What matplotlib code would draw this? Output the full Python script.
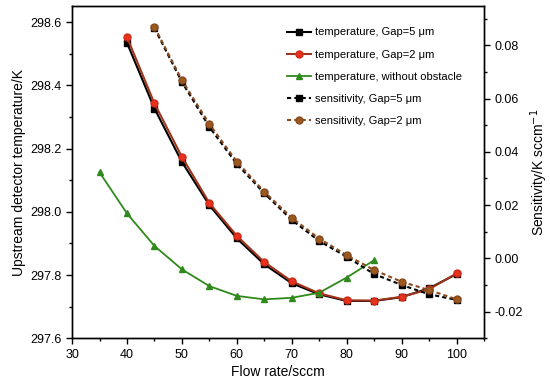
import numpy as np
import matplotlib
matplotlib.use("Agg")
import matplotlib.pyplot as plt
from matplotlib.ticker import MultipleLocator

plt.rcParams['font.family'] = ['Liberation Sans', 'DejaVu Sans']

# flow rates (sccm)
flow = [40, 45, 50, 55, 60, 65, 70, 75, 80, 85, 90, 95, 100]
flow_free = [35, 40, 45, 50, 55, 60, 65, 70, 75, 80, 85]
flow_sens = [45, 50, 55, 60, 65, 70, 75, 80, 85, 90, 95, 100]

# upstream detector temperature (K)
temp_gap5 = [298.535, 298.327, 298.158, 298.021, 297.916, 297.834, 297.774,
             297.739, 297.718, 297.718, 297.730, 297.758, 297.803]
temp_gap2 = [298.553, 298.343, 298.174, 298.028, 297.924, 297.841, 297.780,
             297.742, 297.720, 297.719, 297.731, 297.755, 297.805]
temp_free = [298.125, 297.995, 297.892, 297.818, 297.765, 297.734, 297.723,
             297.728, 297.744, 297.792, 297.847]

# sensitivity (K/sccm)
sens_gap5 = [0.0864, 0.0662, 0.0493, 0.0354, 0.0244, 0.0144, 0.0065,
             0.0006, -0.0059, -0.0100, -0.0135, -0.0156]
sens_gap2 = [0.0869, 0.0669, 0.0504, 0.0363, 0.0250, 0.0152, 0.0074,
             0.0012, -0.0044, -0.0088, -0.0119, -0.0154]

fig = plt.figure(figsize=(5.5, 3.87), dpi=100)
ax = fig.add_axes([0.131, 0.126, 0.749, 0.859])
ax2 = ax.twinx()

l1, = ax.plot(flow, temp_gap5, '-s', color='black', lw=1.5, ms=4.5,
              label='temperature, Gap=5 μm')
l2, = ax.plot(flow, temp_gap2, '-o', color='#a0341c', mfc='#e8321e', mec='#d02a18',
              lw=1.5, ms=5, label='temperature, Gap=2 μm')
l3, = ax.plot(flow_free, temp_free, '-^', color='#2f8a1c', lw=1.3, ms=5,
              label='temperature, without obstacle')
l4, = ax2.plot(flow_sens, sens_gap5, '--s', color='black', lw=1.5, ms=4.5,
               dashes=(2, 1.5), label='sensitivity, Gap=5 μm')
l5, = ax2.plot(flow_sens, sens_gap2, '--o', color='#8b4a1e', mfc='#9a5a1e', mec='#8b4a1e',
               lw=1.5, ms=5, dashes=(2, 1.5), label='sensitivity, Gap=2 μm')

ax.set_xlim(30, 105)
ax.set_ylim(297.6, 298.652)
ax2.set_ylim(-0.03, 0.0948)

ax.xaxis.set_major_locator(MultipleLocator(10))
ax.xaxis.set_minor_locator(MultipleLocator(5))
ax.yaxis.set_major_locator(MultipleLocator(0.2))
ax.yaxis.set_minor_locator(MultipleLocator(0.1))
ax2.yaxis.set_major_locator(MultipleLocator(0.02))
ax2.yaxis.set_minor_locator(MultipleLocator(0.01))
ax.yaxis.set_major_formatter(plt.FormatStrFormatter('%.1f'))
ax2.yaxis.set_major_formatter(plt.FormatStrFormatter('%.2f'))

for a in (ax, ax2):
    a.tick_params(which='major', direction='out', length=4, width=1, labelsize=9)
    a.tick_params(which='minor', direction='out', length=2.5, width=1)
    for s in a.spines.values():
        s.set_linewidth(1)

ax.set_xlabel('Flow rate/sccm', fontsize=10, labelpad=3)
ax.set_ylabel('Upstream detector temperature/K', fontsize=10, labelpad=3)
ax2.set_ylabel('Sensitivity/K sccm$^{-1}$', fontsize=10, labelpad=4)

ax2.legend(handles=[l1, l2, l3, l4, l5], loc='upper left',
           bbox_to_anchor=(0.505, 0.955), frameon=False, fontsize=8,
           handlelength=2.2, handletextpad=0.3, labelspacing=1.1,
           borderaxespad=0.2)

fig.savefig('out.png', dpi=100)
